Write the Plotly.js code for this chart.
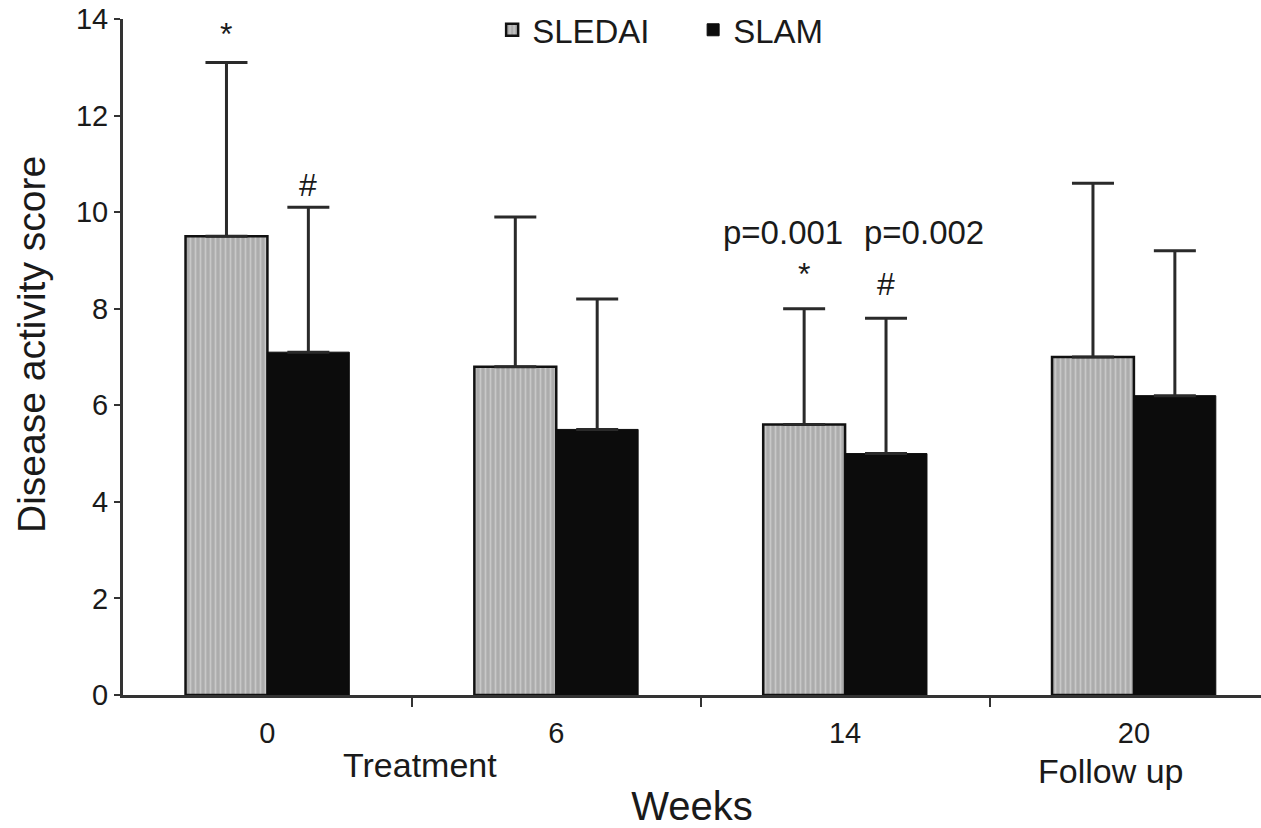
<!DOCTYPE html>
<html>
<head>
<meta charset="utf-8">
<script src="https://cdn.plot.ly/plotly-3.0.1.min.js"></script>
<style>
  html, body { margin: 0; padding: 0; background: #fff; }
  #chart { width: 1261px; height: 828px; }
</style>
</head>
<body>
<div id="chart"></div>
<script>
// Disease activity scores (mean + SD) by week
const weeks = ['0', '6', '14', '20'];
const phaseLabels = ['Treatment', 'Follow up'];
const sledai = [9.5, 6.8, 5.6, 7.0];
const sledaiSD = [3.6, 3.1, 2.4, 3.6];
const slam = [7.1, 5.5, 5.0, 6.2];
const slamSD = [3.0, 2.7, 2.8, 3.0];
const pValues = ['p=0.001', 'p=0.002'];
const yTitle = 'Disease activity score';

const idx = weeks.map((_, i) => i);
const groupFrac = 0.567;           // fraction of a category occupied by both bars
const off = groupFrac / 4;         // centre offset of each bar in its group

const font = 'Liberation Sans, Arial, sans-serif';
const ink = '#1a1a1a';

const traces = [
  {
    type: 'bar', name: 'SLEDAI', x: idx, y: sledai,
    marker: {
      color: '#b5b5b5',
      line: { color: '#111', width: 2.5 },
      pattern: { shape: '|', fgcolor: '#c8c8c8', bgcolor: '#acacac', size: 5, solidity: 0.35 }
    },
    error_y: { type: 'data', symmetric: false, array: sledaiSD, arrayminus: sledaiSD.map(() => 0),
               color: '#2a2a2a', thickness: 3, width: 21 }
  },
  {
    type: 'bar', name: 'SLAM', x: idx, y: slam,
    marker: { color: '#0c0c0c', line: { color: '#0c0c0c', width: 1 } },
    error_y: { type: 'data', symmetric: false, array: slamSD, arrayminus: slamSD.map(() => 0),
               color: '#2a2a2a', thickness: 3, width: 21 }
  }
];

const ann = [];
const label = (x, y, text, shift, size) => ann.push({
  x, y, xref: 'x', yref: 'y', text, showarrow: false, yanchor: 'middle', yshift: shift,
  font: { family: font, size, color: ink }
});
// significance markers above the error bars
label(0 - off, sledai[0] + sledaiSD[0], '*', 28, 32);
label(0 + off, slam[0] + slamSD[0], '#', 22, 32);
label(2 - off, sledai[2] + sledaiSD[2], '*', 35, 32);
label(2 + off, slam[2] + slamSD[2], '#', 34, 32);
// p-values above week 14
label(2 - off - 0.074, sledai[2] + sledaiSD[2], pValues[0], 76, 33);
label(2 + off + 0.133, sledai[2] + sledaiSD[2], pValues[1], 76, 33);
// phase labels under the week axis
label(0.528, 0, phaseLabels[0], -70, 34);
label(2.922, 0, phaseLabels[1], -76, 34);
// vertical axis title
ann.push({
  text: yTitle, xref: 'paper', yref: 'paper', x: -0.081, y: 0.519,
  xanchor: 'center', yanchor: 'middle', textangle: -90, showarrow: false,
  font: { family: font, size: 39, color: ink }
});

const layout = {
  width: 1261, height: 828,
  margin: { l: 123, r: 0, t: 19, b: 133 },
  paper_bgcolor: '#fff', plot_bgcolor: '#fff',
  barmode: 'group', bargap: 1 - groupFrac, bargroupgap: 0,
  font: { family: font, color: ink },
  showlegend: true,
  legend: {
    orientation: 'h', x: 0.501, xanchor: 'center', y: 0.984, yanchor: 'middle',
    bgcolor: 'rgba(0,0,0,0)', font: { family: font, size: 33, color: ink },
    itemwidth: 30, traceorder: 'normal', entrywidth: 156, entrywidthmode: 'pixels'
  },
  xaxis: {
    range: [-0.5, 3.44], tickmode: 'array', tickvals: idx, ticktext: weeks,
    ticks: '', showgrid: false, zeroline: false,
    showline: true, linecolor: '#333', linewidth: 3,
    tickfont: { family: font, size: 29, color: ink },
    ticklabelstandoff: 10,
    minor: { tickmode: 'array', tickvals: [0.5, 1.5, 2.5], ticks: 'outside', ticklen: 9, tickwidth: 2, tickcolor: '#333' },
    title: { text: 'Weeks', font: { family: font, size: 40, color: ink }, standoff: 50 },
    fixedrange: true
  },
  yaxis: {
    range: [0, 14], tickmode: 'array', tickvals: [0, 2, 4, 6, 8, 10, 12, 14],
    ticks: 'outside', ticklen: 6, tickwidth: 2, tickcolor: '#333',
    showgrid: false, zeroline: false,
    showline: true, linecolor: '#333', linewidth: 3,
    tickfont: { family: font, size: 29, color: ink },
    fixedrange: true
  },
  annotations: ann
};

Plotly.newPlot('chart', traces, layout, { displayModeBar: false, staticPlot: true });
</script>
</body>
</html>
